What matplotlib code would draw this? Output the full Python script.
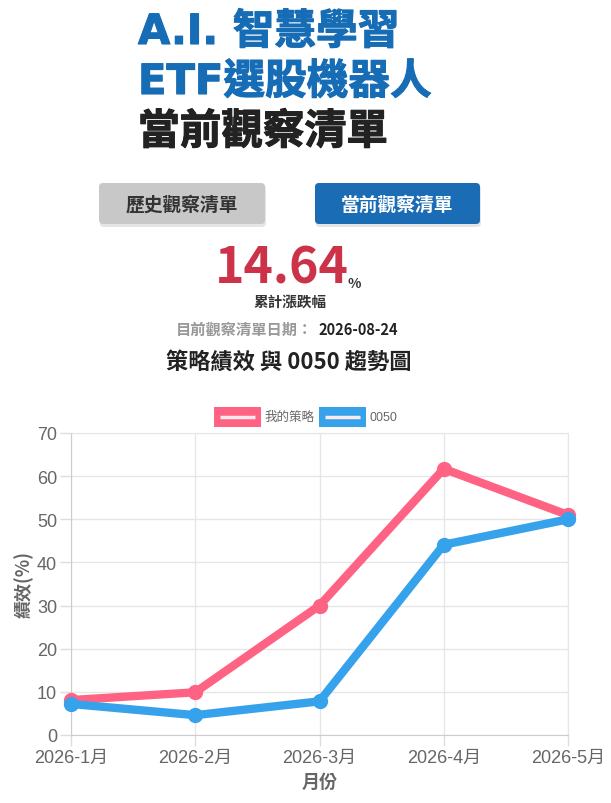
import matplotlib
matplotlib.use('Agg')
import matplotlib.pyplot as plt
import matplotlib.patheffects as pe
from matplotlib.patches import FancyBboxPatch, Rectangle

W, H = 611, 804

months = ['2026-1月', '2026-2月', '2026-3月', '2026-4月', '2026-5月']
strategy = [8.1, 9.9, 30.0, 61.7, 51.0]
etf_0050 = [7.2, 4.6, 7.8, 44.1, 50.0]
series_names = ['我的策略', '0050']
y_ticks = [0, 10, 20, 30, 40, 50, 60, 70]

total_return = '14.64'
list_date = '2026-08-24'

RED = '#ff6384'
BLUE = '#36a2eb'
CJK = ['Noto Sans CJK TC', 'DejaVu Sans']
LATIN = ['Liberation Sans', 'Noto Sans CJK TC', 'DejaVu Sans']
TITLE = ['DejaVu Sans', 'Noto Sans CJK TC']

plt.rcParams['font.family'] = CJK

fig = plt.figure(figsize=(W / 100, H / 100), dpi=100)
fig.patch.set_facecolor('white')

# overlay in pixel coordinates for the page part
bg = fig.add_axes([0, 0, 1, 1])
bg.set_xlim(0, W)
bg.set_ylim(H, 0)
bg.axis('off')

# title
title_lines = [('A.I. 智慧學習', '#166db6', 33), ('ETF選股機器人', '#166db6', 83),
               ('當前觀察清單', '#222222', 133)]
for txt, col, yy in title_lines:
    bg.text(138, yy, txt, fontsize=30, fontweight='bold', color=col, family=TITLE,
            va='center', ha='left',
            path_effects=[pe.withStroke(linewidth=0.8, foreground=col)])

# buttons
def button(x0, x1, face, text, tcolor):
    shadow = FancyBboxPatch((x0 + 1, 186), x1 - x0, 42,
                            boxstyle='round,pad=0,rounding_size=4',
                            fc='#000000', ec='none', alpha=0.10)
    bg.add_patch(shadow)
    box = FancyBboxPatch((x0, 184), x1 - x0, 41,
                         boxstyle='round,pad=0,rounding_size=4',
                         fc=face, ec='none')
    bg.add_patch(box)
    bg.text((x0 + x1) / 2, 205, text, fontsize=13.5, fontweight='bold', color=tcolor,
            ha='center', va='center')

button(99, 265, '#c8c8c8', '歷史觀察清單', '#333333')
button(315, 480, '#1a6db4', '當前觀察清單', 'white')

# cumulative return
bg.text(282, 284, total_return, fontsize=36, fontweight='bold', color='#cc3349',
        ha='center', va='baseline')
bg.text(348, 288, '%', fontsize=10, fontweight='bold', color='#333333',
        ha='left', va='baseline')
bg.text(290, 302, '累計漲跌幅', fontsize=10.5, fontweight='bold', color='#333333',
        ha='center', va='center')
bg.text(313, 330, '目前觀察清單日期：', fontsize=11, fontweight='bold', color='#999999',
        ha='right', va='center')
bg.text(318, 330, list_date, fontsize=10.5, fontweight='bold', color='#222222',
        ha='left', va='center')
bg.text(289, 362, '策略績效 與 0050 趨勢圖', fontsize=16, fontweight='bold',
        color='#222222', ha='center', va='center')

# legend boxes like chart.js
for (x0, color, name) in [(214, RED, series_names[0]), (319, BLUE, series_names[1])]:
    bg.add_patch(Rectangle((x0, 408), 47, 20, fc=color, ec='none'))
    bg.plot([x0 + 6, x0 + 41], [418, 418], color='#fbe9ee', lw=2.5, solid_capstyle='butt')
    bg.text(x0 + 50, 418, name, fontsize=9, color='#666666', ha='left', va='center',
            family=LATIN)

# chart
left, right, top, bottom = 71, 568, 434, 736
ax = fig.add_axes([left / W, 1 - bottom / H, (right - left) / W, (bottom - top) / H])
ax.set_facecolor('none')
x = list(range(len(months)))
ax.plot(x, etf_0050, color=BLUE, lw=6, marker='o', markersize=10,
        solid_joinstyle='round', zorder=4)
ax.plot(x, strategy, color=RED, lw=6, marker='o', markersize=10,
        solid_joinstyle='round', zorder=3)
ax.set_xlim(0, len(months) - 1)
ax.set_ylim(0, 70)
ax.set_yticks(y_ticks)
ax.set_xticks(x)
ax.set_xticklabels(months, family=LATIN)
ax.set_yticklabels([str(v) for v in y_ticks], family=LATIN)
ax.tick_params(axis='both', colors='#dddddd', labelcolor='#666666', labelsize=13,
               length=8, width=1)
ax.tick_params(axis='x', pad=2)
ax.tick_params(axis='y', pad=2)
ax.grid(True, color='#e6e6e6', lw=1)
for side in ['top', 'right']:
    ax.spines[side].set_color('#e6e6e6')
for side in ['left', 'bottom']:
    ax.spines[side].set_color('#cccccc')
ax.set_axisbelow(True)
ax.set_ylabel('績效(%)', fontsize=13, fontweight='bold', color='#666666', labelpad=2)
ax.set_xlabel('月份', fontsize=13, fontweight='bold', color='#666666', labelpad=4)
for ln in ax.lines:
    ln.set_clip_on(False)

fig.savefig('out.png', dpi=100)
